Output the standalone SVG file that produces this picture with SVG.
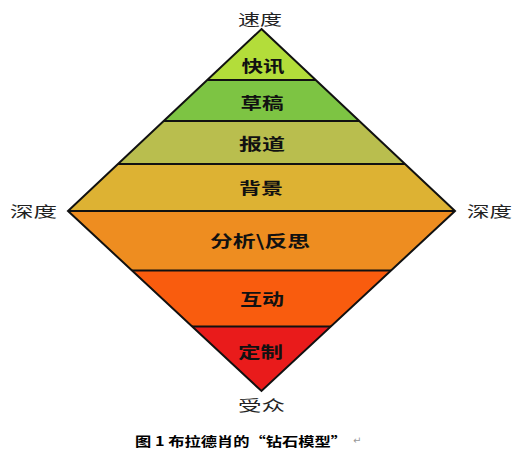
<svg xmlns="http://www.w3.org/2000/svg" width="526" height="454" viewBox="0 0 526 454">
<style>
.lbl{font-family:"Noto Sans CJK SC","Noto Sans",sans-serif;font-size:16px;font-weight:bold;fill:#111;text-anchor:middle;dominant-baseline:central}
.side{font-family:"Noto Sans CJK SC","Noto Sans",sans-serif;font-size:15px;fill:#222;text-anchor:middle;dominant-baseline:central}
.cap{font-family:"Noto Sans CJK SC","Noto Sans",sans-serif;font-size:13px;font-weight:bold;fill:#000;dominant-baseline:central}
.sep{stroke:#111;stroke-width:2}
</style>
<defs>
<clipPath id="dia"><polygon points="261.5,29 455,211 261.5,391 68,211"/></clipPath>
</defs>
<rect width="526" height="454" fill="#fff"/>
<g id="diamond">
<g clip-path="url(#dia)">
<rect x="60" y="20" width="400" height="60" fill="#B3DD3A"/>
<rect x="60" y="80" width="400" height="41" fill="#7DC443"/>
<rect x="60" y="121" width="400" height="43" fill="#B9BE4E"/>
<rect x="60" y="164" width="400" height="47" fill="#DDB233"/>
<rect x="60" y="211" width="400" height="59.5" fill="#EE8D20"/>
<rect x="60" y="270.5" width="400" height="56" fill="#F95C0E"/>
<rect x="60" y="326.5" width="400" height="70" fill="#E91B1B"/>
</g>
<g id="connectors" clip-path="url(#dia)">
<line class="sep" x1="60" y1="80" x2="460" y2="80"/>
<line class="sep" x1="60" y1="121" x2="460" y2="121"/>
<line class="sep" x1="60" y1="164" x2="460" y2="164"/>
<line class="sep" x1="60" y1="211" x2="460" y2="211"/>
<line class="sep" x1="60" y1="270.5" x2="460" y2="270.5"/>
<line class="sep" x1="60" y1="326.5" x2="460" y2="326.5"/>
</g>
<polygon points="261.5,29 455,211 261.5,391 68,211" fill="none" stroke="#111" stroke-width="2" stroke-linejoin="miter"/>
</g>
<g id="n-kuaixun"><text class="lbl" x="263" y="64.5" textLength="43" lengthAdjust="spacingAndGlyphs">快讯</text></g>
<g id="n-caogao"><text class="lbl" x="262" y="101.5" textLength="43" lengthAdjust="spacingAndGlyphs">草稿</text></g>
<g id="n-baodao"><text class="lbl" x="262" y="143" textLength="46" lengthAdjust="spacingAndGlyphs">报道</text></g>
<g id="n-beijing"><text class="lbl" x="261" y="186.5" textLength="44" lengthAdjust="spacingAndGlyphs">背景</text></g>
<g id="n-fenxi"><text class="lbl" x="260" y="240" textLength="100" lengthAdjust="spacingAndGlyphs">分析\反思</text></g>
<g id="n-hudong"><text class="lbl" x="262" y="297.5" textLength="44" lengthAdjust="spacingAndGlyphs">互动</text></g>
<g id="n-dingzhi"><text class="lbl" x="260.5" y="351" textLength="45" lengthAdjust="spacingAndGlyphs">定制</text></g>
<g id="l-sudu"><text class="side" x="260" y="18" textLength="44" lengthAdjust="spacingAndGlyphs">速度</text></g>
<g id="l-shendu-left"><text class="side" x="33.5" y="210" textLength="47" lengthAdjust="spacingAndGlyphs">深度</text></g>
<g id="l-shendu-right"><text class="side" x="489.5" y="210" textLength="45" lengthAdjust="spacingAndGlyphs">深度</text></g>
<g id="l-shouzhong"><text class="side" x="261.5" y="404" textLength="47" lengthAdjust="spacingAndGlyphs" fill="#555">受众</text></g>
<g id="caption">
<text class="cap" x="135" y="440" textLength="212" lengthAdjust="spacingAndGlyphs">图 1 布拉德肖的“钻石模型”</text>
<text x="353" y="444" font-family="DejaVu Sans,sans-serif" font-size="10" fill="#999">↵</text>
</g>
</svg>
